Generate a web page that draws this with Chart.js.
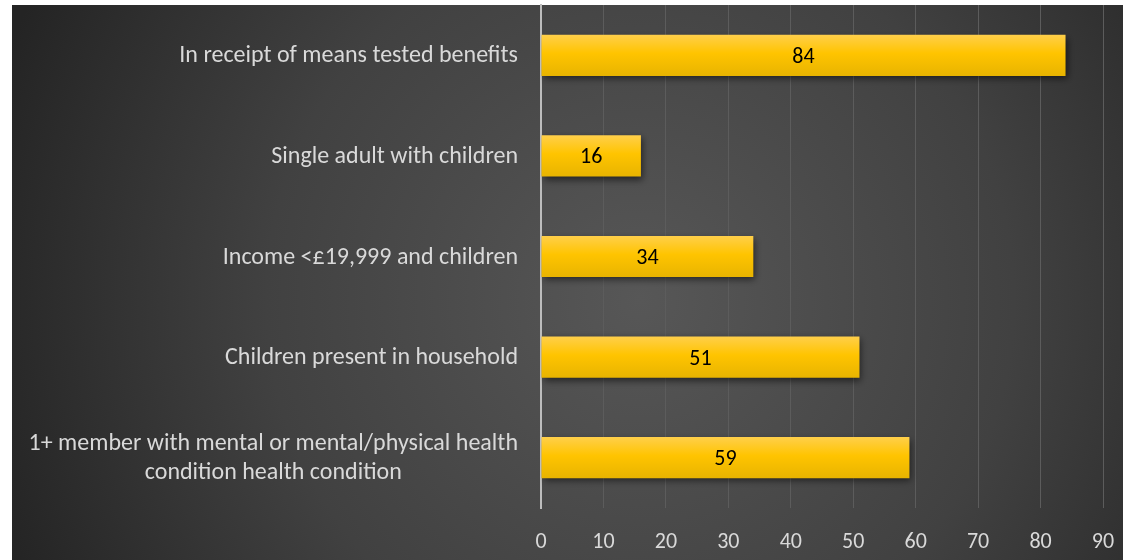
<!DOCTYPE html>
<html>
<head>
<meta charset="utf-8">
<script src="https://cdn.jsdelivr.net/npm/chart.js@4/dist/chart.umd.min.js"></script>
<style>
  html, body { margin: 0; padding: 0; background: #ffffff; }
  #wrap { width: 1123px; height: 560px; position: relative; }
</style>
</head>
<body>
<div id="wrap"><canvas id="chart" width="1123" height="560"></canvas></div>
<script>
// Household characteristics (top to bottom) and the share of households with each (%)
const categories = [
  ["In receipt of means tested benefits"],
  ["Single adult with children"],
  ["Income <£19,999 and children"],
  ["Children present in household"],
  ["1+ member with mental or mental/physical health", "condition health condition"]
];
const shares = [84, 16, 34, 51, 59];
const xTickValues = [0, 10, 20, 30, 40, 50, 60, 70, 80, 90];

const FONT = "Carlito, Calibri, Lato, 'Open Sans', sans-serif";
const LABEL_COLOR = '#d9d9d9';
const PANEL = { left: 12, top: 5 };

// Dark panel with a soft radial glow behind the plot
const panelBackground = {
  id: 'panelBackground',
  beforeDraw(chart) {
    const { ctx, width, height } = chart;
    ctx.save();
    const g = ctx.createRadialGradient(640, 300, 0, 640, 300, 680);
    g.addColorStop(0, '#575757');
    g.addColorStop(0.55, '#414141');
    g.addColorStop(1, '#242424');
    ctx.fillStyle = g;
    ctx.fillRect(PANEL.left, PANEL.top, width - PANEL.left, height - PANEL.top);
    ctx.restore();
  }
};

// Soft drop shadow under the bars
const barShadow = {
  id: 'barShadow',
  beforeDatasetsDraw(chart) {
    const ctx = chart.ctx;
    ctx.save();
    ctx.shadowColor = 'rgba(0,0,0,0.55)';
    ctx.shadowBlur = 7;
    ctx.shadowOffsetX = 2;
    ctx.shadowOffsetY = 3;
  },
  afterDatasetsDraw(chart) {
    chart.ctx.restore();
  }
};

// Category names, right-aligned beside the axis; wrapped names are centred on their widest line
const categoryLabels = {
  id: 'categoryLabels',
  afterDraw(chart) {
    const { ctx } = chart;
    const y = chart.scales.y;
    const rightEdge = chart.chartArea.left - 23;
    const lineHeight = 29;
    ctx.save();
    ctx.font = '24px ' + FONT;
    ctx.fillStyle = LABEL_COLOR;
    ctx.textBaseline = 'middle';
    categories.forEach((lines, i) => {
      const cy = y.getPixelForValue(i) + 1;
      const widest = Math.max(...lines.map(l => ctx.measureText(l).width));
      const centre = rightEdge - widest / 2;
      const top = cy - (lines.length - 1) * lineHeight / 2;
      lines.forEach((line, k) => {
        ctx.textAlign = lines.length > 1 ? 'center' : 'right';
        ctx.fillText(line, lines.length > 1 ? centre : rightEdge, top + k * lineHeight);
      });
    });
    ctx.restore();
  }
};

// Value printed in the middle of each bar
const valueLabels = {
  id: 'valueLabels',
  afterDatasetsDraw(chart) {
    const { ctx } = chart;
    const meta = chart.getDatasetMeta(0);
    ctx.save();
    ctx.font = '22px ' + FONT;
    ctx.fillStyle = '#000000';
    ctx.textAlign = 'center';
    ctx.textBaseline = 'middle';
    meta.data.forEach((bar, i) => {
      const cx = (bar.x + bar.base) / 2;
      ctx.fillText(String(shares[i]), cx, bar.y + 2);
    });
    ctx.restore();
  }
};

function barFill(context) {
  const chart = context.chart;
  const y = chart.scales && chart.scales.y;
  if (!y || !chart.chartArea) return '#ffc000';
  const cy = y.getPixelForValue(context.dataIndex);
  const half = 20.5;
  const g = chart.ctx.createLinearGradient(0, cy - half, 0, cy + half);
  g.addColorStop(0, '#ffcf4a');
  g.addColorStop(0.45, '#ffc400');
  g.addColorStop(1, '#e8b400');
  return g;
}

new Chart(document.getElementById('chart'), {
  type: 'bar',
  data: {
    labels: categories.map(l => l.join(' ')),
    datasets: [{
      data: shares,
      backgroundColor: barFill,
      borderWidth: 0,
      categoryPercentage: 1.0,
      barPercentage: 0.41
    }]
  },
  options: {
    indexAxis: 'y',
    responsive: false,
    animation: false,
    devicePixelRatio: 1,
    layout: { padding: { left: PANEL.left, top: PANEL.top, right: 20, bottom: 0 } },
    plugins: { legend: { display: false }, tooltip: { enabled: false }, title: { display: false } },
    scales: {
      x: {
        min: 0,
        max: 90,
        afterBuildTicks(scale) { scale.ticks = xTickValues.map(v => ({ value: v })); },
        ticks: { color: LABEL_COLOR, font: { family: FONT, size: 22 }, padding: 21 },
        grid: { color: '#5c5c5c', lineWidth: 1, drawTicks: false },
        border: { display: false },
        afterFit(scale) {
          scale.height = 52;
          scale.paddingLeft = 0;
          scale.paddingRight = 0;
        }
      },
      y: {
        ticks: { display: false },
        grid: { display: false, drawTicks: false },
        border: { display: true, color: '#bdbdbd', width: 2 },
        afterFit(scale) { scale.width = 541 - PANEL.left; }
      }
    }
  },
  plugins: [panelBackground, barShadow, valueLabels, categoryLabels]
});
</script>
</body>
</html>
